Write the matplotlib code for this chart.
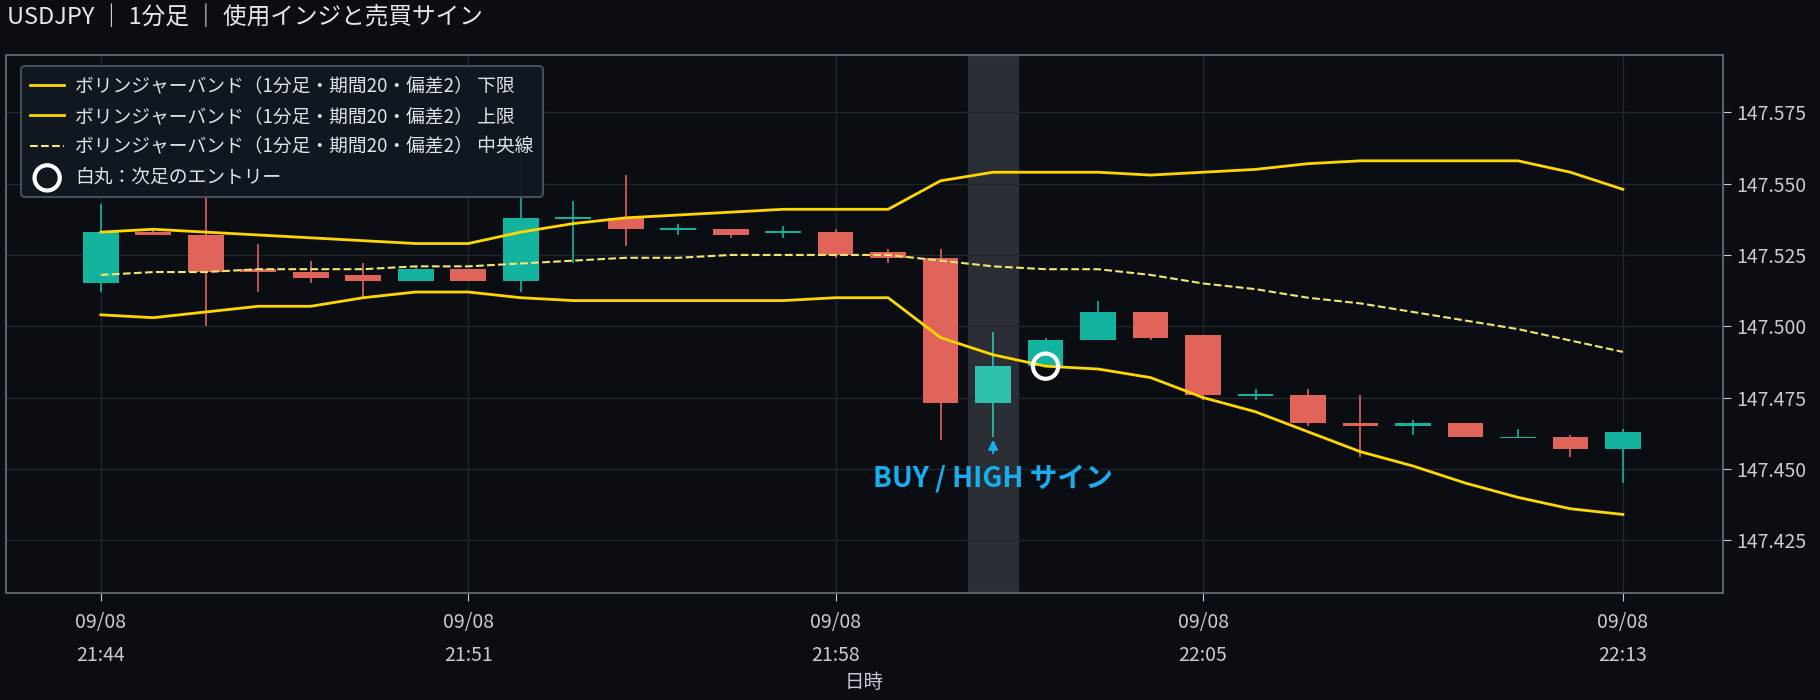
import matplotlib
matplotlib.use("Agg")
import matplotlib.pyplot as plt
import numpy as np

plt.rcParams['font.family'] = ['Noto Sans CJK JP', 'DejaVu Sans']

times = ["21:44","21:45","21:46","21:47","21:48","21:49","21:50","21:51","21:52","21:53",
         "21:54","21:55","21:56","21:57","21:58","21:59","22:00","22:01","22:02","22:03",
         "22:04","22:05","22:06","22:07","22:08","22:09","22:10","22:11","22:12","22:13"]
opens  = [147.515,147.533,147.532,147.520,147.519,147.518,147.516,147.520,147.516,147.538,
          147.538,147.534,147.534,147.533,147.533,147.526,147.524,147.473,147.486,147.495,
          147.505,147.497,147.476,147.476,147.466,147.465,147.466,147.461,147.461,147.457]
closes = [147.533,147.532,147.519,147.519,147.517,147.516,147.520,147.516,147.538,147.5385,
          147.534,147.5345,147.532,147.5335,147.525,147.524,147.473,147.486,147.495,147.505,
          147.496,147.476,147.4765,147.466,147.465,147.466,147.461,147.4615,147.457,147.463]
highs  = [147.543,147.534,147.556,147.529,147.523,147.522,147.521,147.520,147.560,147.544,
          147.553,147.536,147.534,147.535,147.534,147.527,147.527,147.498,147.496,147.509,
          147.505,147.497,147.478,147.478,147.476,147.467,147.466,147.464,147.462,147.464]
lows   = [147.512,147.532,147.500,147.512,147.515,147.510,147.516,147.516,147.512,147.522,
          147.528,147.532,147.531,147.531,147.524,147.522,147.460,147.461,147.486,147.495,
          147.495,147.474,147.474,147.465,147.454,147.462,147.461,147.461,147.454,147.445]
upper  = [147.533,147.534,147.533,147.532,147.531,147.530,147.529,147.529,147.533,147.536,
          147.538,147.539,147.540,147.541,147.541,147.541,147.551,147.554,147.554,147.554,
          147.553,147.554,147.555,147.557,147.558,147.558,147.558,147.558,147.554,147.548]
lower  = [147.504,147.503,147.505,147.507,147.507,147.510,147.512,147.512,147.510,147.509,
          147.509,147.509,147.509,147.509,147.510,147.510,147.496,147.490,147.486,147.485,
          147.482,147.475,147.470,147.463,147.456,147.451,147.445,147.440,147.436,147.434]
middle = [147.518,147.519,147.519,147.520,147.520,147.520,147.521,147.521,147.522,147.523,
          147.524,147.524,147.525,147.525,147.525,147.525,147.523,147.521,147.520,147.520,
          147.518,147.515,147.513,147.510,147.508,147.505,147.502,147.499,147.495,147.491]
signal_idx = 17
entry_idx = 18
entry_price = 147.486
tick_idx = [0, 7, 14, 21, 29]
yticks = [147.425, 147.450, 147.475, 147.500, 147.525, 147.550, 147.575]

BG = "#0a0d12"
GREEN = "#14b3a0"
RED = "#e0645a"
YEL = "#ffd700"

fig = plt.figure(figsize=(18.2, 7.0), dpi=100, facecolor=BG)
ax = fig.add_axes([0.0035, 0.153, 0.943, 0.768], facecolor=BG)
x = np.arange(len(times))

ax.axvspan(signal_idx - 0.48, signal_idx + 0.48, color="#2a2e35", zorder=0)
for i in x:
    up = closes[i] >= opens[i]
    c = GREEN if up else RED
    if i == signal_idx:
        c = "#2fc0ae"
    ax.vlines(i, lows[i], highs[i], color=c, lw=1.2, zorder=2)
    lo, hi = min(opens[i], closes[i]), max(opens[i], closes[i])
    h = max(hi - lo, 0.0006)
    ax.bar(i, h, bottom=lo if hi - lo > 0.0006 else lo - 0.0003, width=0.68, color=c, zorder=3)

l1, = ax.plot(x, lower, color=YEL, lw=2, zorder=4, label="ボリンジャーバンド（1分足・期間20・偏差2） 下限")
l2, = ax.plot(x, upper, color=YEL, lw=2, zorder=4, label="ボリンジャーバンド（1分足・期間20・偏差2） 上限")
l3, = ax.plot(x, middle, color="#f5e66e", lw=1.5, ls="--", zorder=4, label="ボリンジャーバンド（1分足・期間20・偏差2） 中央線")
l4 = ax.scatter([entry_idx], [entry_price], s=330, facecolors="none", edgecolors="white", linewidths=3, zorder=6,
                label="白丸：次足のエントリー")
ax.annotate("", xy=(signal_idx, 147.4612), xytext=(signal_idx, 147.4545),
            arrowprops=dict(arrowstyle="-|>", color="#19aef0", lw=1.5, mutation_scale=14), zorder=6)
ax.text(signal_idx, 147.4463, "BUY / HIGH サイン", color="#19aef0", fontsize=20, fontweight="bold",
        ha="center", va="center", zorder=6)

ax.set_xlim(-1.8, 30.9)
ax.set_ylim(147.4065, 147.595)
ax.set_yticks(yticks)
ax.set_yticklabels([f"{v:.3f}" for v in yticks])
ax.yaxis.tick_right()
ax.set_xticks(tick_idx)
ax.set_xticklabels([f"09/08\n{times[i]}" for i in tick_idx], linespacing=1.75)
ax.tick_params(colors="#c8ccd2", labelsize=14, length=6)
ax.tick_params(axis="x", colors="#c8ccd2", pad=8)
ax.grid(True, color="#22262d", lw=1)
ax.set_axisbelow(True)
for s in ax.spines.values():
    s.set_color("#5a616b")
    s.set_linewidth(1.5)
ax.set_xlabel("日時", color="#c8ccd2", fontsize=14, labelpad=4)

leg = ax.legend(handles=[l1, l2, l3, l4], loc="upper left", fontsize=13.5, facecolor="#121820",
                edgecolor="#4a5260", labelcolor="#e0e3e8", framealpha=0.95, borderpad=0.5,
                handlelength=1.8, handletextpad=0.6, bbox_to_anchor=(0.003, 0.997))
leg.get_frame().set_linewidth(1.5)

fig.text(0.004, 0.975, "USDJPY ｜ 1分足 ｜ 使用インジと売買サイン", color="#e6e8eb", fontsize=17, va="center", ha="left")

fig.savefig("out.png", dpi=100, facecolor=BG)
